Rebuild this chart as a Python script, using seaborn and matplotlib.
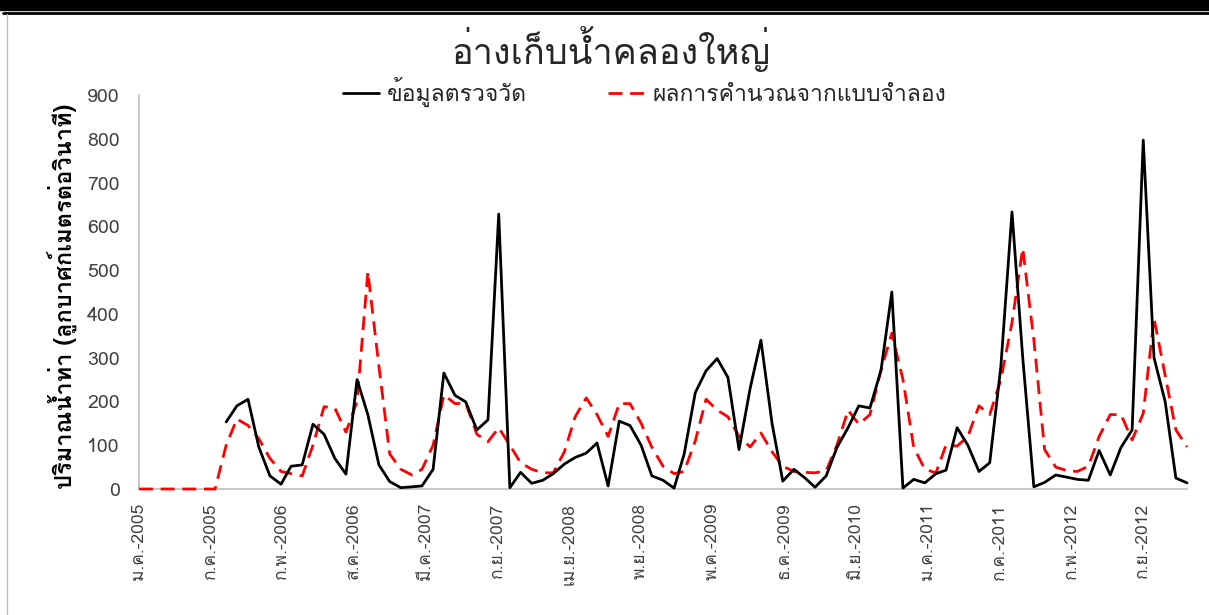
import numpy as np
import pandas as pd
import matplotlib
matplotlib.use("Agg")
import matplotlib.pyplot as plt
import seaborn as sns

# Monthly discharge, Jan 2005 - Jan 2013 (m3/s)
months = pd.date_range("2005-01-01", "2013-01-01", freq="MS")

observed = [np.nan] * 8 + [
    153, 190, 205, 96, 30, 11, 52, 55, 148, 125, 70, 34, 250, 170, 55, 17,
    3, 5, 7, 45, 265, 214, 199, 135, 158, 628, 3, 38, 13, 20, 35, 57,
    72, 82, 105, 7, 155, 145, 100, 30, 20, 2, 80, 220, 270, 298, 255, 90,
    230, 340, 150, 18, 45, 25, 4, 30, 95, 140, 190, 185, 272, 450, 2, 22,
    14, 35, 43, 140, 100, 40, 60, 280, 633, 300, 5, 15, 32, 27, 22, 20,
    88, 32, 95, 135, 797, 300, 200, 25, 14,
]

simulated = [0] * 8 + [
    100, 160, 145, 115, 70, 40, 35, 30, 100, 188, 185, 130, 200, 496, 280, 80,
    45, 32, 45, 100, 215, 195, 196, 125, 108, 140, 100, 60, 45, 37, 37, 85,
    165, 208, 170, 120, 195, 195, 150, 95, 52, 35, 40, 110, 205, 180, 165, 120,
    96, 128, 85, 52, 40, 38, 37, 42, 100, 180, 148, 170, 272, 356, 250, 95,
    45, 37, 100, 98, 120, 190, 170, 250, 380, 550, 340, 90, 50, 42, 40, 52,
    120, 170, 170, 112, 173, 390, 260, 135, 96,
]

thai_months = ["ม.ค.", "ก.พ.", "มี.ค.", "เม.ย.", "พ.ค.", "มิ.ย.",
               "ก.ค.", "ส.ค.", "ก.ย.", "ต.ค.", "พ.ย.", "ธ.ค."]

title = "อ่างเก็บน้ำคลองใหญ่"
label_obs = "ข้อมูลตรวจวัด"
label_sim = "ผลการคำนวณจากแบบจำลอง"
y_label = "ปริมาณน้ำท่า (ลูกบาศก์เมตรต่อวินาที)"

sns.set_theme(style="white")
plt.rcParams["font.family"] = ["Loma", "DejaVu Sans"]

df = pd.DataFrame({"date": months, "observed": observed, "simulated": simulated})

W, H = 1209, 615
fig = plt.figure(figsize=(W / 100, H / 100), dpi=100)
ax = fig.add_axes([139 / W, 1 - 489 / H, (1187 - 139) / W, (489 - 95) / H])

sns.lineplot(data=df, x="date", y="observed", ax=ax, color="black",
             linewidth=2.0, label=label_obs, zorder=4)
sns.lineplot(data=df, x="date", y="simulated", ax=ax, color="#FF0000",
             linewidth=2.0, linestyle=(0, (5, 2.8)), label=label_sim, zorder=3)
for line in ax.lines:
    line.set_clip_on(False)

ax.set_ylim(0, 900)
ax.set_yticks(np.arange(0, 901, 100))
start = pd.Timestamp("2005-01-01")
ax.set_xlim(start, pd.Timestamp("2013-01-01"))
# date axis with a major unit of 200 days
ticks = [start + pd.Timedelta(days=200 * k) for k in range(15)]
ax.set_xticks(ticks)
ax.set_xticklabels([f"{thai_months[t.month - 1]}-{t.year}" for t in ticks],
                   rotation=90, fontsize=12.5, color="#404040")
ax.tick_params(axis="y", labelsize=14, colors="#404040", length=0, pad=14)
ax.tick_params(axis="x", length=0, pad=10)

for side in ["top", "right"]:
    ax.spines[side].set_visible(False)
for side in ["left", "bottom"]:
    ax.spines[side].set_color("#BFBFBF")
    ax.spines[side].set_linewidth(1.2)
    ax.spines[side].set_zorder(2)

ax.set_xlabel("")
ax.set_ylabel(y_label, fontsize=17, fontweight="bold", color="black")
ax.yaxis.set_label_coords(-0.058, 0.49)

ax.legend(loc="center left", bbox_to_anchor=(322 / W, 1 - 92 / H),
          bbox_transform=fig.transFigure, ncol=2, frameon=False, fontsize=16.5,
          handlelength=1.6, handletextpad=0.35, columnspacing=3.5)

fig.text(0.505, 1 - 49 / H, title, ha="center", va="center", fontsize=26)

# page frame
fig.patches.append(plt.Rectangle((0, 1 - 10 / H), 1, 10 / H,
                                 transform=fig.transFigure, color="black"))
fig.add_artist(plt.Line2D([3 / W, 1], [1 - 13 / H] * 2,
                          transform=fig.transFigure, color="black", linewidth=2))
fig.add_artist(plt.Line2D([7 / W] * 2, [0, 1 - 14 / H],
                          transform=fig.transFigure, color="#BFBFBF", linewidth=1))

fig.savefig("out.png", dpi=100)
